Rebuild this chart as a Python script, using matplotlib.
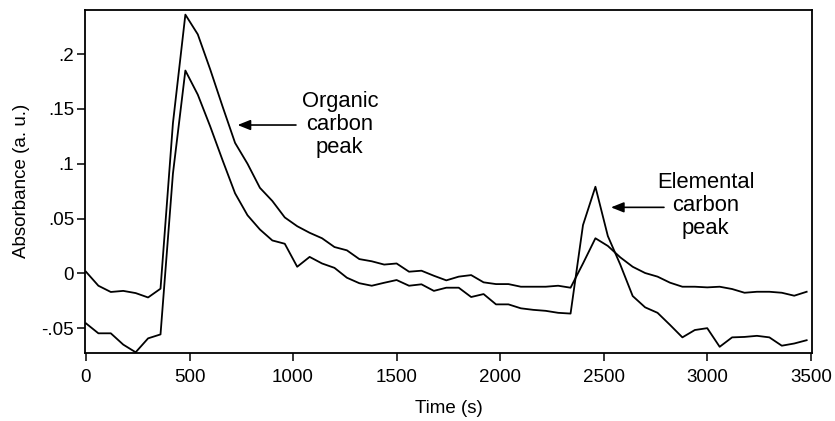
import numpy as np
import matplotlib
matplotlib.use("Agg")
import matplotlib.pyplot as plt

plt.rcParams['font.family'] = ['Liberation Sans', 'DejaVu Sans']

time_s = list(range(0, 3481, 60))

series_upper = [0.0015, -0.0113, -0.017, -0.016, -0.018, -0.022, -0.014, 0.137, 0.236, 0.218,
                0.186, 0.152, 0.119, 0.100, 0.078, 0.066, 0.051, 0.043, 0.037, 0.032,
                0.024, 0.021, 0.013, 0.011, 0.008, 0.009, 0.0015, 0.0024, -0.0022, -0.0064,
                -0.003, -0.0016, -0.0082, -0.0098, -0.0098, -0.0122, -0.0122, -0.0122, -0.0113, -0.0131,
                0.009, 0.032, 0.025, 0.0146, 0.006, 0.0003, -0.003, -0.0085, -0.0122, -0.0122,
                -0.0128, -0.0122, -0.0143, -0.0177, -0.0168, -0.0168, -0.0177, -0.0204, -0.0168]

series_lower = [-0.0456, -0.0547, -0.0547, -0.065, -0.072, -0.0593, -0.0557, 0.091, 0.185, 0.163,
                0.134, 0.103, 0.073, 0.053, 0.040, 0.030, 0.027, 0.006, 0.015, 0.009,
                0.005, -0.004, -0.009, -0.0113, -0.0086, -0.0061, -0.0113, -0.010, -0.016, -0.0131,
                -0.0131, -0.0216, -0.0189, -0.0283, -0.0283, -0.0319, -0.0333, -0.0342, -0.036, -0.0367,
                0.044, 0.079, 0.034, 0.008, -0.0207, -0.031, -0.036, -0.047, -0.0584, -0.0517,
                -0.050, -0.067, -0.0584, -0.058, -0.057, -0.0584, -0.066, -0.064, -0.061]

x_ticks = [0, 500, 1000, 1500, 2000, 2500, 3000, 3500]
y_ticks = [-0.05, 0.0, 0.05, 0.1, 0.15, 0.2]
y_tick_labels = ['-.05', '0', '.05', '.1', '.15', '.2']

fig = plt.figure(figsize=(8.35, 4.21), dpi=100)
ax = fig.add_axes([0.1022, 0.1622, 0.9725 - 0.1022, 0.9762 - 0.1622])

ax.plot(time_s, series_upper, color='black', lw=1.3)
ax.plot(time_s, series_lower, color='black', lw=1.3)

ax.set_xlim(-3, 3506)
ax.set_ylim(-0.0724, 0.2402)
ax.set_xticks(x_ticks)
ax.set_xticklabels([str(v) for v in x_ticks])
ax.set_yticks(y_ticks)
ax.set_yticklabels(y_tick_labels)
ax.tick_params(direction='out', length=6, width=1.1, labelsize=13.5)
ax.tick_params(axis='x', pad=6)
ax.tick_params(axis='y', pad=2)
for s in ax.spines.values():
    s.set_linewidth(1.3)

ax.set_xlabel('Time (s)', fontsize=13.5, labelpad=10)
ax.set_ylabel('Absorbance (a. u.)', fontsize=13.5, labelpad=8)

arrow_kw = dict(arrowstyle='-|>,head_length=0.55,head_width=0.22', color='black',
                lw=1.2, mutation_scale=14, shrinkA=0, shrinkB=0)
ax.annotate('', xy=(732, 0.1353), xytext=(1014, 0.1353), arrowprops=arrow_kw)
ax.annotate('', xy=(2535, 0.0602), xytext=(2791, 0.0602), arrowprops=arrow_kw)

ax.text(1226, 0.136, 'Organic\ncarbon\npeak', ha='center', va='center',
        multialignment='center', fontsize=15.8, linespacing=1.12)
ax.text(2992, 0.0617, 'Elemental\ncarbon\npeak', ha='center', va='center',
        multialignment='center', fontsize=15.8, linespacing=1.12)

fig.savefig('out.png', dpi=100)
